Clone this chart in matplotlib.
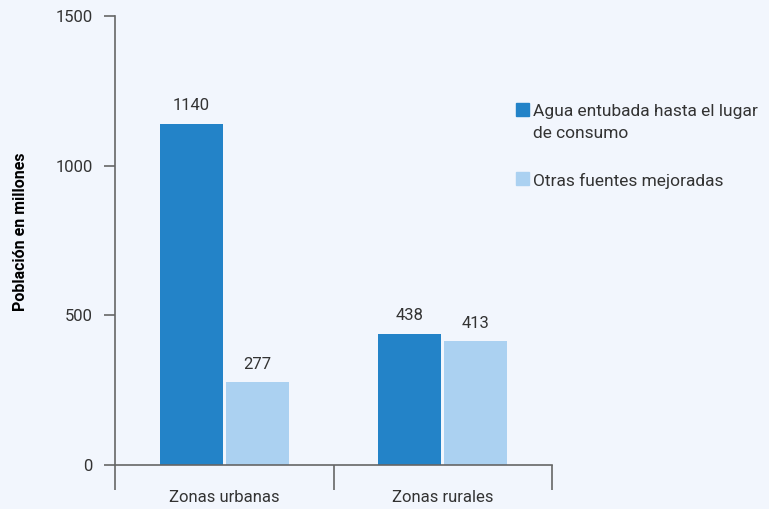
import numpy as np
import matplotlib.pyplot as plt
from matplotlib.patches import Rectangle

plt.rcParams['font.family'] = ['Roboto', 'DejaVu Sans']

categories = ['Zonas urbanas', 'Zonas rurales']
series_names = ['Agua entubada hasta el lugar\nde consumo', 'Otras fuentes mejoradas']
piped = [1140, 438]
other = [277, 413]

colors = ['#2383c8', '#abd1f1']
bg = '#f2f6fd'
txt = '#333333'

fig = plt.figure(figsize=(7.69, 5.09), dpi=100, facecolor=bg)
ax = fig.add_axes([115 / 769, 44 / 509, 437 / 769, 449 / 509])
ax.set_facecolor(bg)

x = np.arange(len(categories))
w = 0.288
gap = 0.007
b1 = ax.bar(x - w / 2 - gap, piped, w, color=colors[0])
b2 = ax.bar(x + w / 2 + gap, other, w, color=colors[1])

for bars in (b1, b2):
    for r in bars:
        ax.text(r.get_x() + r.get_width() / 2, r.get_height() + 35, f'{int(r.get_height())}',
                ha='center', va='bottom', fontsize=12, color=txt)

ax.set_xlim(-0.5, 1.5)
ax.set_ylim(0, 1500)
ax.set_yticks([0, 500, 1000, 1500])
ax.set_xticks([-0.5, 0.5, 1.5])
ax.set_xticklabels([])
ax.set_xticks(x, minor=True)
ax.set_xticklabels(categories, minor=True)
ax.tick_params(axis='x', which='major', length=18, width=1.2, color='#666666', direction='out')
ax.tick_params(axis='x', which='minor', length=0, pad=18, labelsize=12, labelcolor=txt)
ax.tick_params(axis='y', length=8, width=1.2, color='#666666', pad=8, labelsize=12, labelcolor=txt)

for s in ['top', 'right']:
    ax.spines[s].set_visible(False)
for s in ['left', 'bottom']:
    ax.spines[s].set_color('#666666')
    ax.spines[s].set_linewidth(1.2)

ax.set_ylabel('Población en millones', fontsize=11.5, fontweight='bold', color='black')
ax.yaxis.set_label_coords((28 - 115) / 437, 0.52)

# legend drawn by hand to match the spacing of the reference
legend_y = [103, 172]
for name, c, yy in zip(series_names, colors, legend_y):
    fig.patches.append(Rectangle((516 / 769, 1 - (yy + 13) / 509), 13 / 769, 13 / 509,
                                 transform=fig.transFigure, color=c))
    fig.text(533 / 769, 1 - (yy + 1) / 509, name, ha='left', va='top', fontsize=12.5,
             color=txt, linespacing=1.55)

fig.savefig('out.png', dpi=100, facecolor=bg)
